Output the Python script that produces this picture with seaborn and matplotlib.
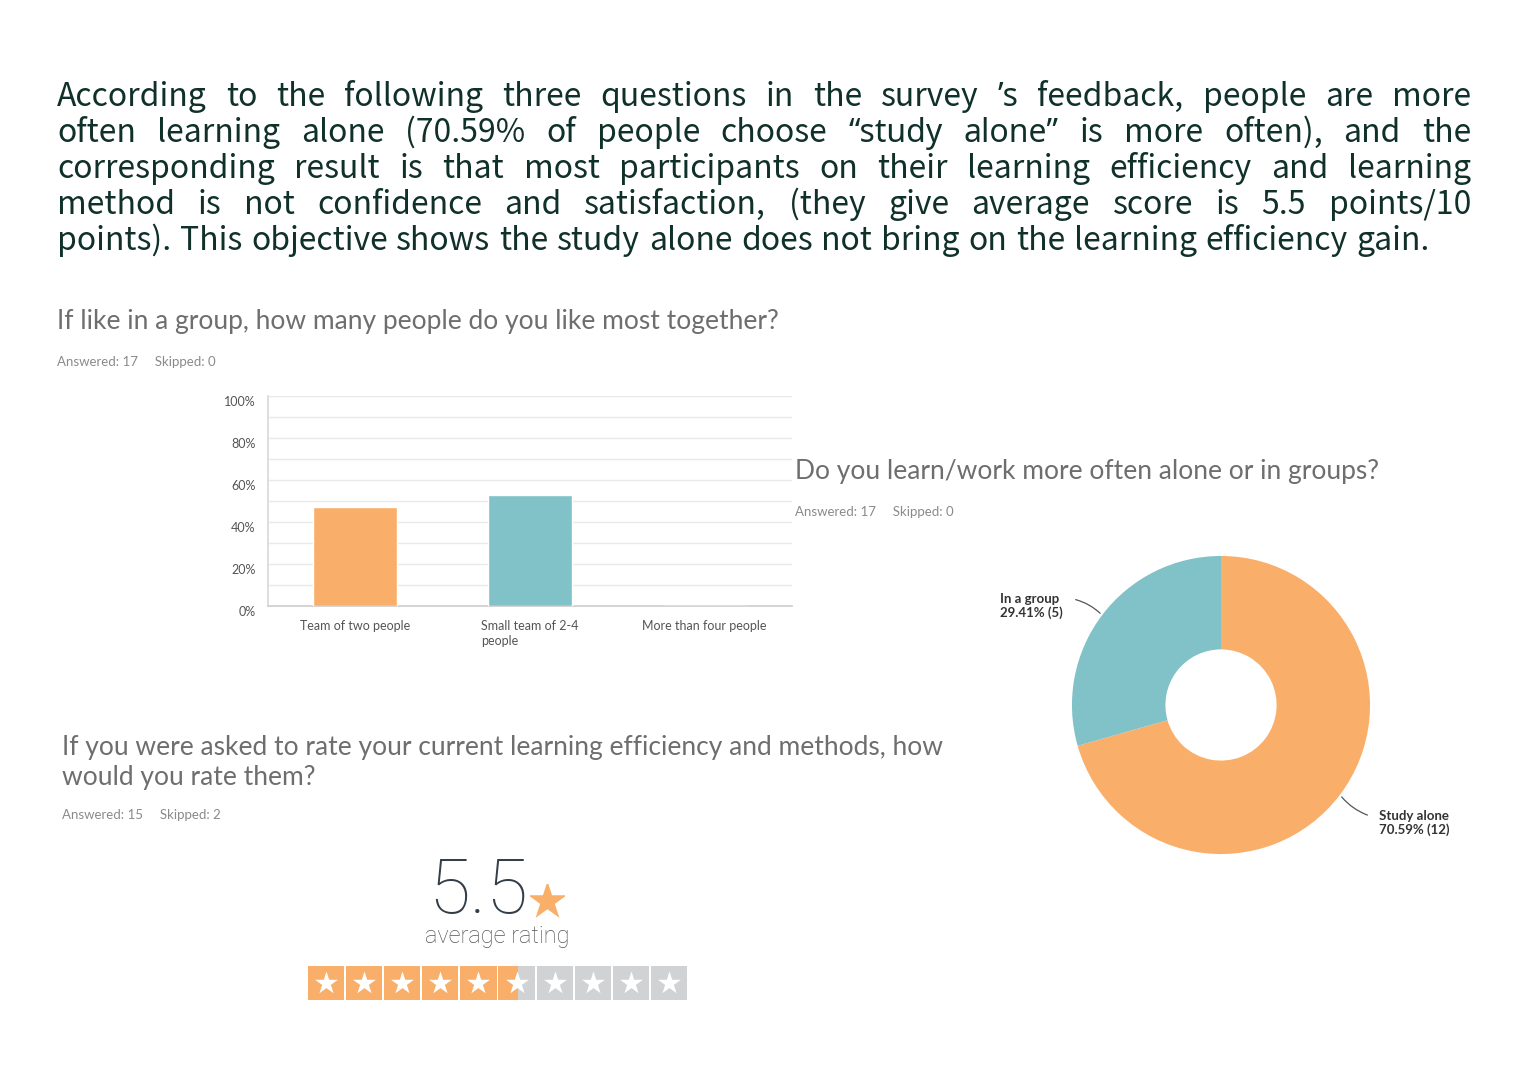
import matplotlib
matplotlib.use("Agg")
import matplotlib.pyplot as plt
import seaborn as sns
import numpy as np
import pandas as pd

# ---- data ----
intro_lines = [
    "According to the following three questions in the survey ’s feedback, people are more",
    "often learning alone (70.59% of people choose “study alone” is more often), and the",
    "corresponding result is that most participants on their learning efficiency and learning",
    "method is not confidence and satisfaction, (they give average score is 5.5 points/10",
    "points). This objective shows the study alone does not bring on the learning efficiency gain.",
]

q1_title = "If like in a group, how many people do you like most together?"
q1_meta = "Answered: 17     Skipped: 0"
group_sizes = ["Team of two people", "Small team of 2-4\npeople", "More than four people"]
group_share = [47.06, 52.94, 0.0]

q2_title = "Do you learn/work more often alone or in groups?"
q2_meta = "Answered: 17     Skipped: 0"
mode_labels = ["Study alone", "In a group"]
mode_counts = [12, 5]

q3_title = "If you were asked to rate your current learning efficiency and methods, how\nwould you rate them?"
q3_meta = "Answered: 15     Skipped: 2"
avg_rating = 5.5
max_rating = 10

ORANGE = "#F9AF6A"
TEAL = "#80C2C8"
GREY_STAR = "#D1D2D4"
TITLE_C = "#6E6E6E"
META_C = "#8A8A8A"
SURVEY_FONT = ["Lato", "Roboto", "DejaVu Sans"]
BIG_FONT = ["Roboto", "DejaVu Sans"]

W, H = 1521, 1075

sns.set_theme(style="white")
plt.rcParams["font.family"] = SURVEY_FONT

fig = plt.figure(figsize=(W / 100, H / 100), dpi=100)
fig.patch.set_facecolor("white")


def fx(x):
    return x / W


def fy(y):
    return 1 - y / H


def axes_px(left, top, width, height):
    return fig.add_axes([fx(left), fy(top + height), width / W, height / H])


# ---- justified intro paragraph ----
renderer = fig.canvas.get_renderer()
cjk = ["Noto Sans CJK SC", "DejaVu Sans"]
latin = ["Noto Sans", "DejaVu Sans"]
x_left, x_right = 57, 1471
base_y = 106
for i, line in enumerate(intro_lines):
    words = line.split(" ")
    fams = [latin if any(c in w for c in "’“”") else cjk for w in words]
    widths = []
    for w, fam in zip(words, fams):
        t = fig.text(0, 0, w, fontsize=23, family=fam)
        widths.append(t.get_window_extent(renderer).width)
        t.remove()
    right = x_right if i < len(intro_lines) - 1 else 1430
    gap = (right - x_left - sum(widths)) / (len(words) - 1)
    x = x_left
    for w, wd, fam in zip(words, widths, fams):
        fig.text(fx(x), fy(base_y + 36 * i), w, ha="left", va="baseline",
                 fontsize=23, color="#10302A", family=fam)
        x += wd + gap

# ---- question 1: bar chart ----
fig.text(fx(57), fy(322), q1_title, fontsize=19, color=TITLE_C, va="center")
fig.text(fx(57), fy(362), q1_meta, fontsize=9.5, color=META_C, va="center")

ax1 = axes_px(268, 395.7, 524, 210)
df1 = pd.DataFrame({"size": group_sizes, "share": group_share})
sns.barplot(data=df1, x="size", y="share", hue="size",
            palette=[ORANGE, TEAL, "#CCCCCC"], width=0.48, ax=ax1,
            legend=False, saturation=1, zorder=3)
ax1.set_xlim(-0.5, 2.5)
ax1.set_ylim(0, 100)
ax1.set_yticks(np.arange(0, 101, 20))
ax1.set_yticks(np.arange(0, 101, 10), minor=True)
ax1.set_yticklabels([f"{v}%" for v in range(0, 101, 20)])
ax1.grid(axis="y", which="both", color="#E9E9E9", linewidth=1, zorder=0)
ax1.set_xlabel("")
ax1.set_ylabel("")
for s in ["top", "right"]:
    ax1.spines[s].set_visible(False)
ax1.spines["left"].set_color("#DADADA")
ax1.spines["bottom"].set_color("#CFCFCF")
ax1.tick_params(axis="both", length=0, labelsize=9, labelcolor="#555555")
ax1.tick_params(axis="y", pad=9)
ax1.tick_params(axis="x", pad=10)
for lbl in ax1.get_yticklabels():
    lbl.set_va("top")
for lbl in ax1.get_xticklabels():
    lbl.set_multialignment("left")
    lbl.set_linespacing(1.35)

# ---- question 2: donut ----
fig.text(fx(795), fy(472), q2_title, fontsize=19, color=TITLE_C, va="center")
fig.text(fx(795), fy(512), q2_meta, fontsize=9.5, color=META_C, va="center")

ax2 = axes_px(1221 - 155, 705 - 155, 310, 310)
wedges, _ = ax2.pie(mode_counts, colors=[ORANGE, TEAL], startangle=90,
                    counterclock=False, wedgeprops=dict(width=0.627, linewidth=0))
ax2.set_xlim(-1.04, 1.04)
ax2.set_ylim(-1.04, 1.04)
ax2.set_aspect("equal")
total = sum(mode_counts)
label_pos = {"Study alone": ((1379, 823), (1370, 816)),
             "In a group": ((1000, 606), (1073, 599))}
for w, lab, cnt in zip(wedges, mode_labels, mode_counts):
    ang = np.deg2rad((w.theta1 + w.theta2) / 2)
    edge = (np.cos(ang), np.sin(ang))
    (tx, ty), (lx, ly) = label_pos[lab]
    start = ((lx - 1221) / 149, (705 - ly) / 149)
    ax2.annotate("", xy=edge, xytext=start,
                 arrowprops=dict(arrowstyle="-", color="#555555", lw=0.9,
                                 connectionstyle="arc3,rad=-0.15"),
                 annotation_clip=False)
    fig.text(fx(tx), fy(ty), f"{lab}\n{cnt / total * 100:.2f}% ({cnt})",
             fontsize=9.5, color="#333333", fontweight="bold", ha="left", va="center",
             linespacing=1.05)

# ---- question 3: rating ----
fig.text(fx(62), fy(762), q3_title, fontsize=19, color=TITLE_C,
         va="center", linespacing=1.25)
fig.text(fx(62), fy(815), q3_meta, fontsize=9.5, color=META_C, va="center")

fig.text(fx(478), fy(892), f"{avg_rating}", fontsize=55, color="#333E48", fontweight="light",
         family=BIG_FONT, ha="center", va="center")
fig.text(fx(497), fy(937), "average rating", fontsize=17, color="#555555", fontweight="light",
         family=BIG_FONT, ha="center", va="center")
ax_s = axes_px(530, 884, 34, 34)
ax_s.scatter([0], [0], marker="*", s=850, color=ORANGE, linewidths=0)
ax_s.set_xlim(-1, 1)
ax_s.set_ylim(-1, 1)
ax_s.axis("off")

ax3 = axes_px(307, 966, 381, 34)
pos = np.arange(max_rating)
box_w = 0.95
ax3.bar(pos + 0.025, np.ones(max_rating), width=box_w, align="edge", color=GREY_STAR, linewidth=0)
full = int(avg_rating)
fills = [box_w if i < full else (avg_rating - full if i == full else 0) for i in pos]
ax3.bar(pos + 0.025, np.ones(max_rating), width=fills, align="edge", color=ORANGE, linewidth=0)
ax3.scatter(pos + 0.5, np.full(max_rating, 0.5), marker="*", s=300, color="white", linewidths=0, zorder=3)
ax3.set_xlim(0, max_rating)
ax3.set_ylim(0, 1)
ax3.axis("off")

fig.savefig("out.png", dpi=100, facecolor="white")
